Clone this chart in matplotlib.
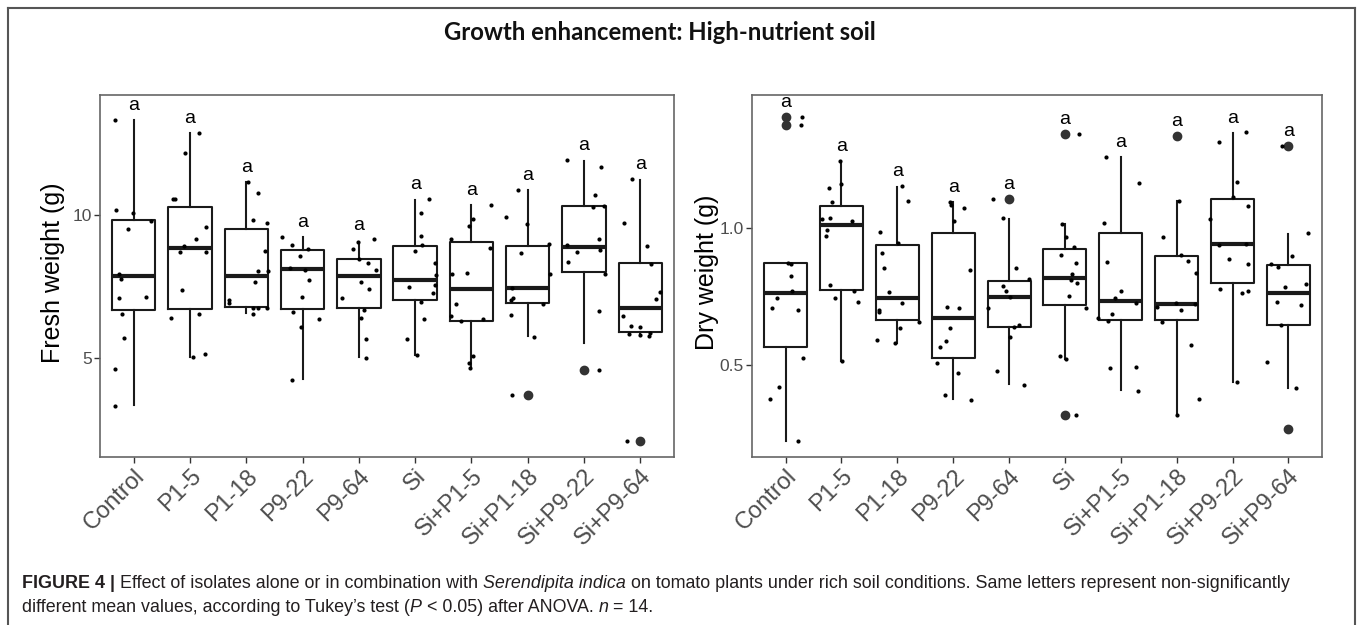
import matplotlib.pyplot as plt
import numpy as np
from matplotlib.lines import Line2D
from matplotlib.transforms import ScaledTranslation
from matplotlib.offsetbox import TextArea, HPacker, VPacker, AnchoredOffsetbox

groups = ["Control", "P1-5", "P1-18", "P9-22", "P9-64",
          "Si", "Si+P1-5", "Si+P1-18", "Si+P9-22", "Si+P9-64"]
letters = ["a"] * 10

# fresh weight (g): box stats
fresh_q1 = [6.68, 6.73, 6.79, 6.72, 6.76, 7.03, 6.31, 6.91, 8.02, 5.90]
fresh_med = [7.87, 8.86, 7.87, 8.10, 7.87, 7.73, 7.40, 7.44, 8.89, 6.76]
fresh_q3 = [9.83, 10.29, 9.51, 8.78, 8.46, 8.92, 9.07, 8.92, 10.31, 8.34]
fresh_lo = [3.36, 5.05, 6.56, 4.27, 5.02, 5.10, 4.70, 5.77, 5.51, 5.77]
fresh_hi = [13.32, 12.86, 11.17, 9.24, 9.07, 10.52, 10.35, 10.87, 11.90, 11.22]
fresh_out = [[], [], [], [], [], [], [], [3.71], [4.58], [2.11]]

fresh_pts = [
    [13.34, 10.17, 10.08, 9.51, 9.80, 7.94, 7.76, 7.09, 7.14, 6.53, 5.71, 4.63, 3.33],
    [12.88, 12.18, 10.58, 10.55, 9.59, 9.18, 8.93, 8.72, 8.72, 7.38, 6.39, 6.53, 5.02, 5.14],
    [11.17, 10.76, 9.83, 9.74, 8.75, 8.04, 8.04, 7.67, 7.03, 6.93, 6.74, 6.74, 6.53, 6.74],
    [9.24, 8.97, 8.58, 8.83, 8.14, 8.08, 7.73, 7.14, 6.60, 6.35, 6.07, 4.25],
    [9.07, 8.80, 9.15, 8.48, 8.31, 8.08, 7.67, 7.41, 7.11, 6.68, 6.41, 5.65, 5.00],
    [10.56, 10.06, 9.28, 8.97, 8.75, 8.33, 7.90, 7.55, 7.47, 7.28, 6.95, 6.35, 5.65, 5.10],
    [10.37, 9.88, 9.62, 9.15, 8.86, 7.96, 7.94, 6.89, 6.47, 6.31, 6.35, 5.07, 4.84, 4.64],
    [10.89, 9.94, 9.69, 8.99, 8.68, 7.93, 7.44, 7.03, 7.09, 6.88, 6.50, 5.75, 3.71],
    [11.92, 11.69, 10.70, 10.27, 10.31, 9.18, 8.97, 8.72, 8.78, 8.37, 7.94, 6.66, 4.58],
    [11.26, 9.71, 8.92, 8.29, 7.32, 7.06, 6.48, 6.12, 6.07, 5.84, 5.80, 5.77, 5.89, 2.11],
]
fresh_jit = [
    [-0.34, -0.32, -0.02, -0.10, 0.30, -0.27, -0.23, -0.27, 0.22, -0.21, -0.17, -0.34, -0.34],
    [0.16, -0.09, -0.27, -0.30, 0.28, 0.11, -0.11, -0.18, 0.29, -0.15, -0.33, 0.16, 0.05, 0.26],
    [0.03, 0.21, 0.12, 0.36, 0.33, 0.39, 0.21, 0.15, -0.30, -0.31, 0.12, 0.21, 0.12, 0.36],
    [-0.36, -0.18, -0.04, 0.09, -0.23, 0.04, 0.12, -0.01, -0.17, 0.30, -0.02, -0.18],
    [-0.02, -0.11, 0.27, 0.01, 0.16, 0.31, 0.04, 0.18, -0.30, 0.09, 0.04, 0.12, 0.12],
    [0.24, 0.11, 0.11, 0.13, 0.00, 0.35, 0.37, 0.35, -0.11, 0.31, 0.11, 0.16, -0.15, 0.04],
    [0.34, 0.02, -0.05, -0.36, 0.33, -0.08, -0.34, -0.28, -0.37, -0.19, 0.20, 0.03, -0.04, -0.03],
    [-0.17, -0.39, -0.02, 0.38, -0.11, 0.39, -0.27, -0.29, -0.26, 0.27, -0.29, 0.11, -0.27],
    [-0.30, 0.31, 0.19, 0.16, 0.35, 0.27, -0.30, -0.12, 0.28, -0.28, 0.37, 0.26, 0.26],
    [-0.14, -0.28, 0.12, 0.20, 0.36, 0.28, -0.31, -0.17, -0.01, -0.20, -0.01, 0.15, 0.17, -0.23],
]

# dry weight (g)
dry_q1 = [0.567, 0.774, 0.664, 0.524, 0.640, 0.718, 0.664, 0.664, 0.798, 0.646]
dry_med = [0.762, 1.010, 0.743, 0.673, 0.749, 0.819, 0.735, 0.723, 0.940, 0.762]
dry_q3 = [0.871, 1.080, 0.936, 0.981, 0.807, 0.923, 0.981, 0.898, 1.105, 0.865]
dry_lo = [0.224, 0.515, 0.579, 0.375, 0.431, 0.521, 0.409, 0.318, 0.439, 0.415]
dry_hi = [0.871, 1.245, 1.151, 1.096, 1.032, 1.015, 1.258, 1.100, 1.348, 0.978]
dry_out = [[1.404, 1.376], [], [], [], [1.106], [1.342, 0.318], [], [1.337], [], [1.299, 0.266]]

dry_pts = [
    [1.404, 1.376, 0.871, 0.869, 0.825, 0.771, 0.743, 0.706, 0.701, 0.524, 0.418, 0.375, 0.223],
    [1.245, 1.161, 1.145, 1.096, 1.032, 1.035, 1.026, 0.993, 0.972, 0.792, 0.746, 0.768, 0.731, 0.515],
    [1.153, 1.099, 0.984, 0.944, 0.908, 0.853, 0.765, 0.725, 0.701, 0.692, 0.655, 0.634, 0.579, 0.591],
    [1.096, 1.084, 1.074, 1.026, 0.847, 0.710, 0.707, 0.634, 0.589, 0.567, 0.506, 0.472, 0.391, 0.372],
    [1.106, 1.035, 0.855, 0.788, 0.770, 0.749, 0.813, 0.706, 0.646, 0.637, 0.601, 0.478, 0.427],
    [1.342, 1.015, 0.968, 0.932, 0.901, 0.873, 0.832, 0.810, 0.798, 0.752, 0.706, 0.533, 0.521, 0.318],
    [1.260, 1.163, 1.019, 0.877, 0.771, 0.743, 0.727, 0.673, 0.661, 0.686, 0.488, 0.491, 0.406],
    [0.965, 1.100, 0.901, 0.881, 0.837, 0.713, 0.727, 0.701, 0.723, 0.655, 0.573, 0.375, 0.318],
    [1.349, 1.315, 1.167, 1.112, 1.080, 1.032, 0.938, 0.942, 0.887, 0.869, 0.776, 0.762, 0.771, 0.439],
    [1.299, 0.981, 0.899, 0.869, 0.856, 0.796, 0.783, 0.731, 0.719, 0.646, 0.512, 0.415],
]
dry_jit = [
    [0.30, 0.27, 0.04, 0.10, 0.09, 0.11, -0.16, -0.24, 0.22, 0.32, -0.12, -0.28, 0.22],
    [-0.03, 0.00, -0.22, -0.17, -0.35, -0.21, 0.19, -0.26, -0.27, -0.20, -0.12, 0.23, 0.29, 0.01],
    [0.08, 0.19, -0.31, 0.01, -0.27, -0.23, -0.15, 0.09, -0.32, -0.33, 0.38, 0.05, -0.04, -0.36],
    [-0.05, -0.04, 0.19, 0.02, 0.30, -0.11, 0.10, -0.05, -0.12, -0.24, -0.29, 0.08, -0.14, 0.31],
    [-0.29, -0.11, 0.13, -0.10, -0.05, 0.02, 0.36, -0.38, 0.18, 0.08, 0.02, -0.21, 0.26],
    [0.25, -0.05, 0.02, 0.16, -0.07, 0.19, 0.13, 0.10, 0.22, 0.08, 0.38, -0.08, 0.01, 0.19],
    [-0.27, 0.33, -0.30, -0.24, 0.00, -0.10, 0.27, -0.40, -0.23, -0.15, -0.20, 0.28, 0.31],
    [-0.25, 0.04, 0.08, 0.20, 0.35, -0.35, -0.01, 0.07, 0.32, -0.26, 0.26, 0.39, 0.00],
    [0.24, -0.25, 0.07, 0.00, 0.27, -0.40, -0.24, 0.24, -0.07, 0.27, -0.23, 0.17, 0.27, 0.08],
    [-0.11, 0.35, 0.07, -0.32, -0.18, 0.32, -0.07, -0.21, 0.23, -0.14, -0.39, 0.14],
]

W, H = 1357, 625
fig = plt.figure(figsize=(W / 100, H / 100), dpi=100)
plt.rcParams['font.family'] = ['Liberation Sans', 'DejaVu Sans']

# outer frame (open at the bottom)
fc = '#555555'
fig.add_artist(Line2D([8 / W, 8 / W], [0, 1 - 8 / H], color=fc, lw=1.5))
fig.add_artist(Line2D([8 / W, 1355 / W], [1 - 8 / H, 1 - 8 / H], color=fc, lw=1.5))
fig.add_artist(Line2D([1355 / W, 1355 / W], [0, 1 - 8 / H], color=fc, lw=1.5))

fig.text(660 / W, 1 - 33 / H, "Growth enhancement: High-nutrient soil",
         ha='center', va='center', fontsize=17.2, fontweight='bold',
         family=['Lato', 'DejaVu Sans'], color='#111111')


def panel(rect, q1, med, q3, lo, hi, out, pts, jit, ylim, yticks, ylabel, lab_x, ystep):
    ax = fig.add_axes(rect)
    pos = np.arange(1, len(groups) + 1)
    stats = []
    for i in range(len(groups)):
        stats.append(dict(med=med[i], q1=q1[i], q3=q3[i], whislo=lo[i], whishi=hi[i],
                          fliers=out[i]))
    lp = dict(color='#1a1a1a', linewidth=1.5)
    ax.bxp(stats, positions=pos, widths=0.77, showcaps=False,
           boxprops=lp, whiskerprops=lp,
           medianprops=dict(color='#1a1a1a', linewidth=3.0, solid_capstyle='butt'),
           flierprops=dict(marker='o', markerfacecolor='#333333', markeredgecolor='#333333',
                           markersize=6))
    for i in range(len(groups)):
        ax.scatter(pos[i] + np.array(jit[i]), pts[i], s=9, color='black',
                   linewidths=0, zorder=3)
        top = max([hi[i]] + list(out[i]) + list(pts[i]))
        ax.text(pos[i], top + ystep, letters[i], ha='center', va='center',
                fontsize=14, color='black')
    ax.set_xlim(0.4, len(groups) + 0.6)
    ax.set_ylim(*ylim)
    ax.set_yticks(yticks)
    ax.set_yticklabels([f"{t:g}" if t >= 5 else f"{t:.1f}" for t in yticks],
                       fontsize=12.5, color='#4d4d4d')
    ax.set_xticks(pos)
    ax.set_xticklabels(groups, rotation=45, ha='right', rotation_mode='anchor',
                       fontsize=17, color='#4d4d4d')
    for lbl in ax.get_xticklabels():
        lbl.set_transform(lbl.get_transform() + ScaledTranslation(7 / 72, -2 / 72, fig.dpi_scale_trans))
    ax.tick_params(axis='both', length=4, width=1, color='#333333', pad=2)
    for sp in ax.spines.values():
        sp.set_color('#666666')
        sp.set_linewidth(1.2)
    ax.set_ylabel(ylabel, fontsize=18, color='black')
    ax.yaxis.set_label_coords(lab_x, 0.51)
    return ax


panel([100 / W, 1 - 457 / H, 574 / W, 362 / H],
      fresh_q1, fresh_med, fresh_q3, fresh_lo, fresh_hi, fresh_out, fresh_pts, fresh_jit,
      (1.54, 14.2), [5, 10], "Fresh weight (g)", -0.061, 0.5)
panel([752 / W, 1 - 457 / H, 570 / W, 362 / H],
      dry_q1, dry_med, dry_q3, dry_lo, dry_hi, dry_out, dry_pts, dry_jit,
      (0.164, 1.485), [0.5, 1.0], "Dry weight (g)", -0.058, 0.052)

# caption
cap = dict(color='#231f20', fontsize=12.9)
capb = dict(cap, fontweight='bold')
capi = dict(cap, style='italic')
line1 = HPacker(children=[
    TextArea("FIGURE 4 | ", textprops=capb),
    TextArea("Effect of isolates alone or in combination with ", textprops=cap),
    TextArea("Serendipita indica", textprops=capi),
    TextArea(" on tomato plants under rich soil conditions. Same letters represent non-significantly",
             textprops=cap),
], align="baseline", pad=0, sep=0)
line2 = HPacker(children=[
    TextArea("different mean values, according to Tukey\u2019s test (", textprops=cap),
    TextArea("P", textprops=capi),
    TextArea(" < 0.05) after ANOVA. ", textprops=cap),
    TextArea("n", textprops=capi),
    TextArea(" = 14.", textprops=cap),
], align="baseline", pad=0, sep=0)
caption = VPacker(children=[line1, line2], align="left", pad=0, sep=5)
fig.add_artist(AnchoredOffsetbox(loc='lower left', child=caption, pad=0, borderpad=0,
                                 frameon=False, bbox_to_anchor=(22 / W, 1 - 616 / H),
                                 bbox_transform=fig.transFigure))

fig.savefig("out.png", dpi=100)
